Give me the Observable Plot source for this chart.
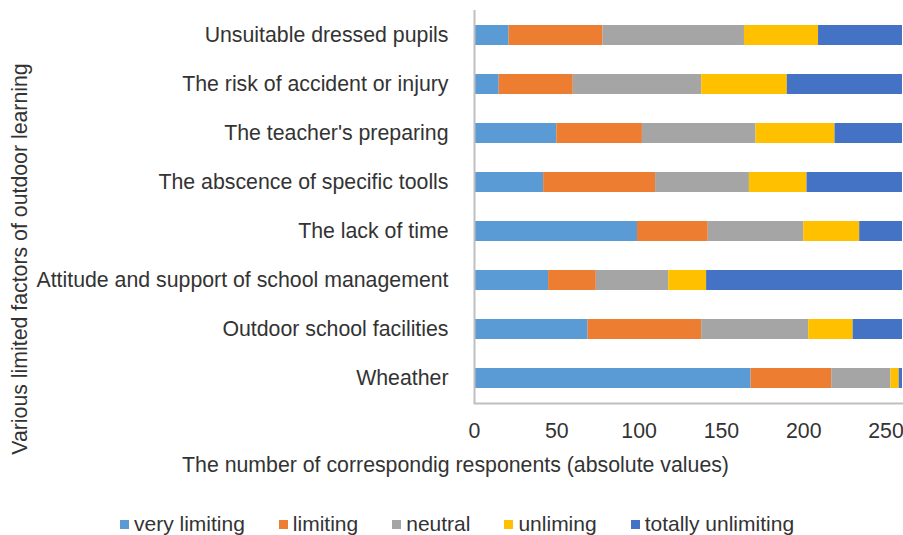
<!DOCTYPE html>
<html><head><meta charset="utf-8">
<script src="https://cdn.jsdelivr.net/npm/d3@7"></script>
<script src="https://cdn.jsdelivr.net/npm/@observablehq/plot@0.6"></script>
<style>
body{margin:0;background:#fff;font-family:"Liberation Sans",Arial,sans-serif;}
#legend{display:flex;gap:34px;padding-left:120px;height:28px;align-items:center;font-size:21px;color:#333;white-space:nowrap;}
#legend .item{display:flex;align-items:center;}
#legend .sw{display:inline-block;width:9px;height:9px;margin-right:5px;}
</style></head><body><div id="chart"></div><div id="legend"></div>
<script>
const factors = [
  "Unsuitable dressed pupils",
  "The risk of accident or injury",
  "The teacher's preparing",
  "The abscence of specific toolls",
  "The lack of time",
  "Attitude and support of school management",
  "Outdoor school facilities",
  "Wheather"
];
const series = ["very limiting", "limiting", "neutral", "unliming", "totally unlimiting"];
const colors = ["#5B9BD5", "#ED7D31", "#A5A5A5", "#FFC000", "#4472C4"];
const veryLimiting      = [21, 15, 50, 42, 99, 45, 69, 168];
const limiting          = [57, 45, 52, 68, 43, 29, 69, 49];
const neutral           = [86, 78, 69, 57, 58, 44, 65, 36];
const unliming          = [45, 52, 48, 35, 34, 23, 27, 5];
const totallyUnlimiting = [51, 70, 41, 58, 26, 119, 30, 2];
const xTicks = [0, 50, 100, 150, 200, 250];
const xLabel = "The number of correspondig responents (absolute values)";
const yLabel = "Various limited factors of outdoor learning";

const values = [veryLimiting, limiting, neutral, unliming, totallyUnlimiting];
const data = factors.flatMap((f, i) => series.map((s, j) => ({factor: f, series: s, value: values[j][i]})));

const chart = Plot.plot({
  width: 903, height: 510,
  marginLeft: 474, marginRight: 1, marginTop: 10, marginBottom: 107,
  style: {fontFamily: "'Liberation Sans', Arial, sans-serif", fontSize: "21.3px", color: "#333", background: "#fff"},
  x: {domain: [0, 260], ticks: xTicks, tickSize: 0, tickPadding: 19, label: null},
  y: {domain: factors, paddingInner: 0.6, paddingOuter: 0.3, tickSize: 0, tickPadding: 26, label: null},
  color: {domain: series, range: colors},
  marks: [
    Plot.barX(data, {y: "factor", x: "value", fill: "series", order: series}),
    Plot.ruleX([0], {stroke: "#bfbfbf", strokeWidth: 2}),
    Plot.frame({anchor: "bottom", stroke: "#bfbfbf", strokeWidth: 2}),
    Plot.text([xLabel], {frameAnchor: "bottom", text: d => d, textAnchor: "middle", lineAnchor: "middle", dx: -233, dy: 62}),
    Plot.text([yLabel], {frameAnchor: "left", text: d => d, textAnchor: "middle", lineAnchor: "middle", rotate: -90, dx: -454, dy: 52})
  ]
});
document.getElementById("chart").appendChild(chart);

const legend = d3.select("#legend");
series.forEach((s, i) => {
  const it = legend.append("span").attr("class", "item");
  it.append("span").attr("class", "sw").style("background", colors[i]);
  it.append("span").text(s);
});
</script></body></html>
